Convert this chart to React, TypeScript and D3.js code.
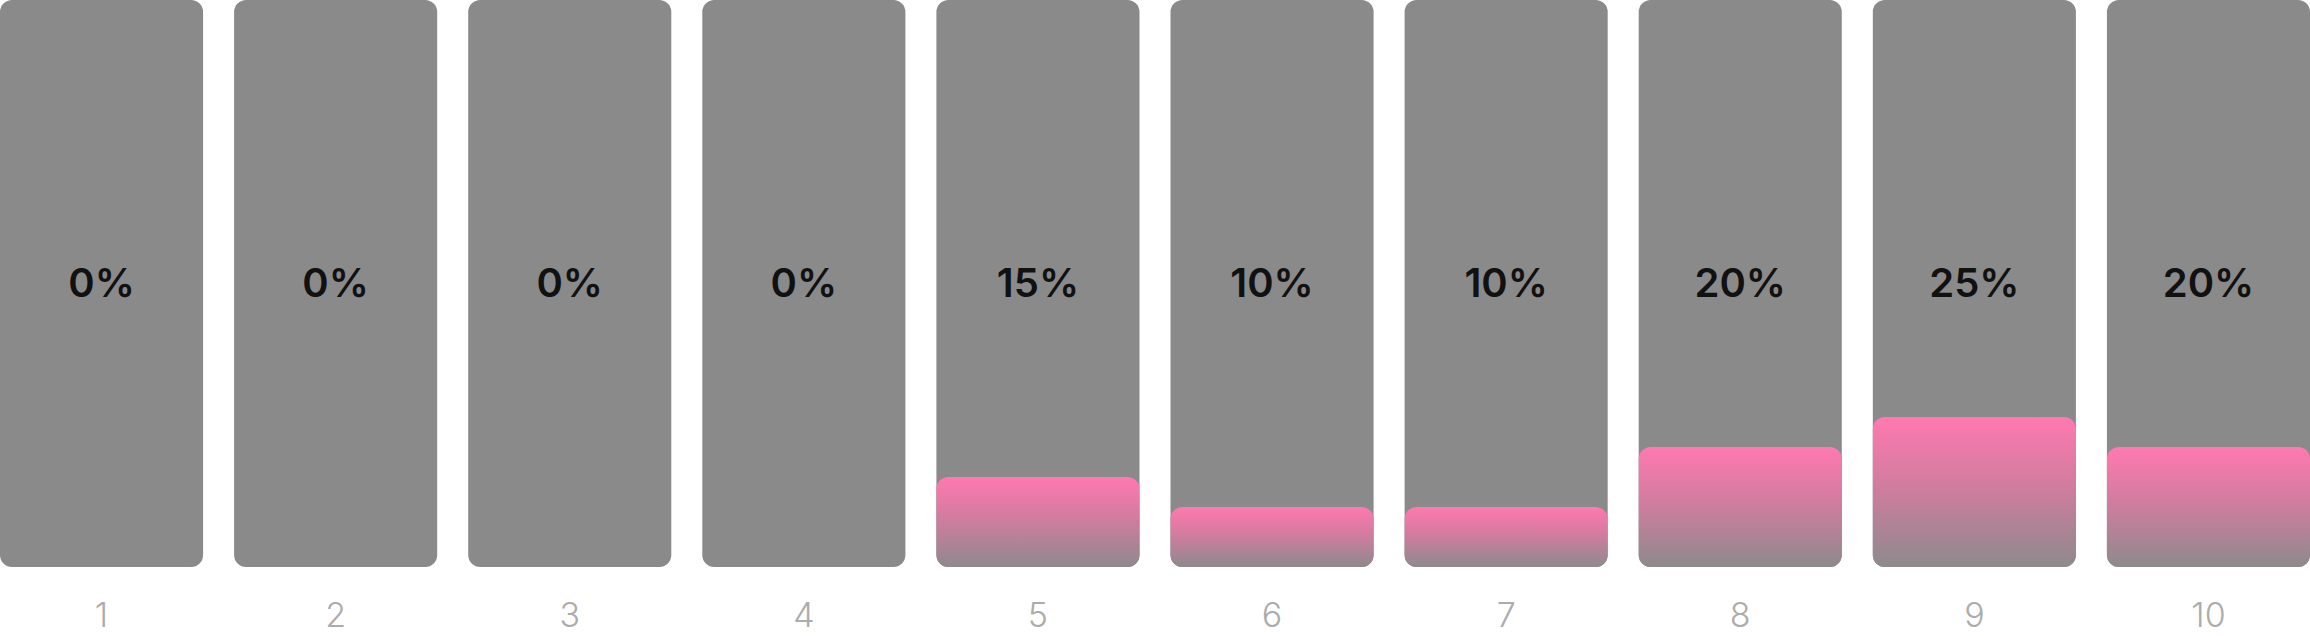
import React, { useEffect, useRef } from "react";
import * as d3 from "d3";

// chart data
const categories = ["1", "2", "3", "4", "5", "6", "7", "8", "9", "10"];
const percentValues = [0, 0, 0, 0, 15, 10, 10, 20, 25, 20];

const WIDTH = 2310;
const HEIGHT = 636;

const App: React.FC = () => {
  const svgRef = useRef<SVGSVGElement | null>(null);

  useEffect(() => {
    if (!svgRef.current) return;
    const svg = d3.select(svgRef.current);
    svg.selectAll("*").remove();

    const barBottom = 567;
    const radius = 12;

    // band scale for columns
    const xScale = d3
      .scaleBand<string>()
      .domain(categories)
      .range([0, WIDTH])
      .paddingInner(0.1325)
      .paddingOuter(0);

    // pink height scale (100% -> 600px)
    const yScale = d3.scaleLinear().domain([0, 100]).range([barBottom, barBottom - 600]);

    const defs = svg.append("defs");
    const grad = defs
      .append("linearGradient")
      .attr("id", "pinkFade")
      .attr("x1", 0)
      .attr("y1", 0)
      .attr("x2", 0)
      .attr("y2", 1);
    grad.append("stop").attr("offset", "0%").attr("stop-color", "#ff79b0");
    grad.append("stop").attr("offset", "45%").attr("stop-color", "#d27c9f");
    grad.append("stop").attr("offset", "100%").attr("stop-color", "#8d8a8c");

    const data = categories.map((c, i) => ({ cat: c, value: percentValues[i] }));

    const groups = svg
      .selectAll("g.col")
      .data(data)
      .join("g")
      .attr("class", "col")
      .attr("transform", (d) => `translate(${xScale(d.cat)}, 0)`);

    // grey background bars
    groups
      .append("rect")
      .attr("x", 0)
      .attr("y", 0)
      .attr("width", xScale.bandwidth())
      .attr("height", barBottom)
      .attr("rx", radius)
      .attr("fill", "#8a8a8a");

    // pink value bars
    groups
      .filter((d) => d.value > 0)
      .append("rect")
      .attr("x", 0)
      .attr("y", (d) => yScale(d.value))
      .attr("width", xScale.bandwidth())
      .attr("height", (d) => barBottom - yScale(d.value))
      .attr("rx", radius)
      .attr("fill", "url(#pinkFade)");

    // percent labels
    groups
      .append("text")
      .attr("x", xScale.bandwidth() / 2)
      .attr("y", 282)
      .attr("text-anchor", "middle")
      .attr("dominant-baseline", "central")
      .attr("font-family", "Inter, 'Noto Sans', sans-serif")
      .attr("font-weight", 600)
      .attr("font-size", 40)
      .attr("fill", "#111111")
      .text((d) => `${d.value}%`);

    // category labels
    groups
      .append("text")
      .attr("x", xScale.bandwidth() / 2)
      .attr("y", 614)
      .attr("text-anchor", "middle")
      .attr("dominant-baseline", "central")
      .attr("font-family", "Inter, 'Noto Sans', sans-serif")
      .attr("font-weight", 300)
      .attr("font-size", 34)
      .attr("fill", "#acacac")
      .text((d) => d.cat);
  }, []);

  return (
    <svg
      ref={svgRef}
      width={WIDTH}
      height={HEIGHT}
      style={{ position: "fixed", top: 0, left: 0, background: "#ffffff" }}
    />
  );
};

export default App;
